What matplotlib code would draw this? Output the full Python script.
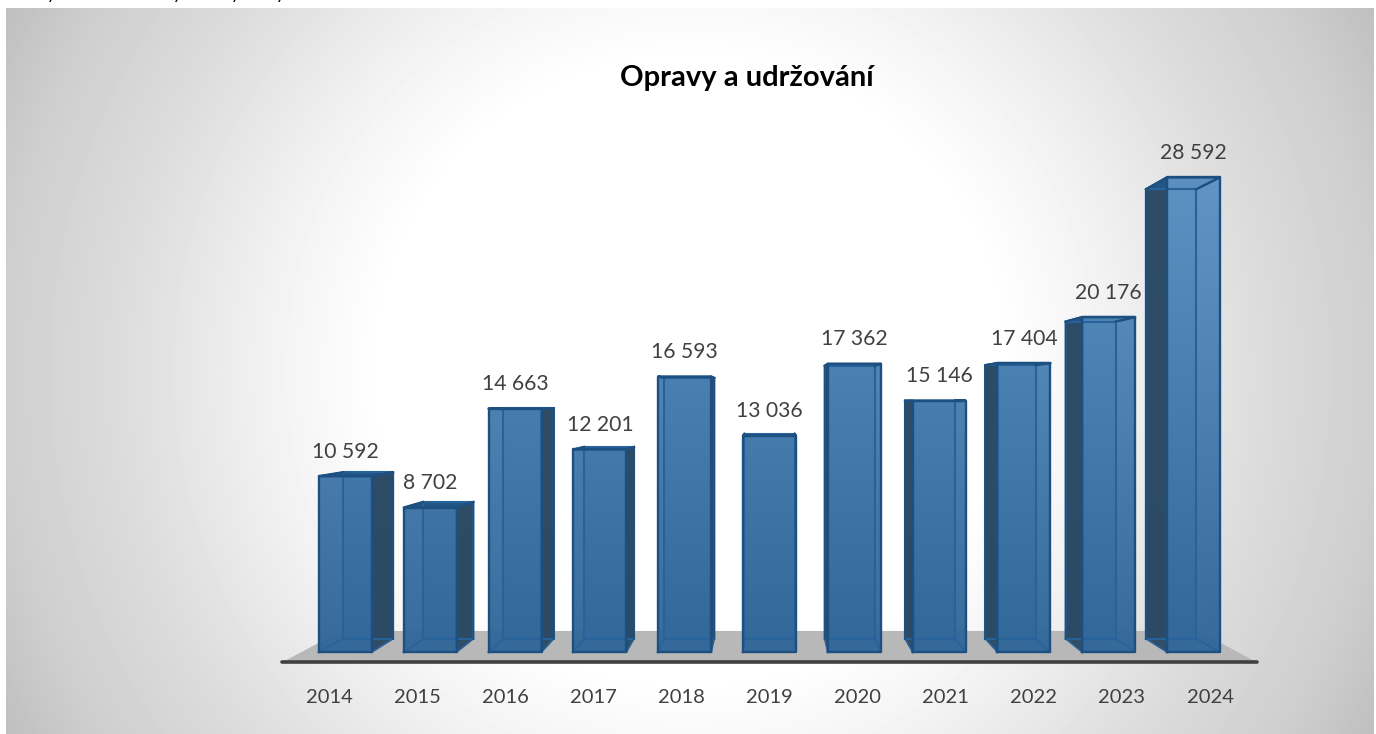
import numpy as np
import matplotlib.pyplot as plt
from matplotlib.colors import LinearSegmentedColormap
from matplotlib.patches import Polygon

years = ['2014', '2015', '2016', '2017', '2018', '2019', '2020', '2021', '2022', '2023', '2024']
values = [10592, 8702, 14663, 12201, 16593, 13036, 17362, 15146, 17404, 20176, 28592]
labels = ['10 592', '8 702', '14 663', '12 201', '16 593', '13 036', '17 362', '15 146', '17 404', '20 176', '28 592']
title = 'Opravy a udržování'

plt.rcParams['font.family'] = ['Lato', 'DejaVu Sans']

W, H = 1376, 734
fig = plt.figure(figsize=(W / 100, H / 100), dpi=100, facecolor='white')

# background panel, white in the middle and grey towards the corners
bg = fig.add_axes([6 / W, 0, (W - 8) / W, (H - 8) / H])
px, py = np.meshgrid(np.arange(6, W - 2), np.arange(8, H))
r = np.hypot(px - 690, py - 370)
shade = np.interp(r, [0, 310, 420, 577, 690, 780], [1, 1, 0.95, 0.86, 0.81, 0.745])
bg.imshow(shade, cmap='gray', vmin=0, vmax=1, aspect='auto', interpolation='bilinear')
bg.axis('off')

# chart axes over the whole figure: one category = 84.8 px, 1000 = 16.6 px
ax = fig.add_axes([0, 0, 1, 1])
ax.patch.set_alpha(0)
ax.axis('off')
ax.set_xlim(-345.5 / 84.8, (W - 345.5) / 84.8)
ax.set_ylim((652 - H) / 0.0166, 652 / 0.0166)

# perspective: the back of a bar shrinks towards this point
vx, vy = 5.0, 15060.0
depth = 0.947
half = 0.3125
floor_y = -630


def back(x, y, s=depth):
    return vx + (x - vx) * s, vy + (y - vy) * s


face_cmap = LinearSegmentedColormap.from_list('face', ['#5d93c3', '#316799'])
grad = np.linspace(0, 1, 480).reshape(-1, 1)


def grad_poly(pts, z, alpha=1.0):
    im = ax.imshow(grad, cmap=face_cmap, extent=[-1, 11, 0, 28800], aspect='auto',
                   zorder=z, alpha=alpha, interpolation='bilinear')
    clip = Polygon(pts, closed=True, transform=ax.transData)
    im.set_clip_path(clip)


xlim, ylim = ax.get_xlim(), ax.get_ylim()

# floor and axis line
fl, _ = back(-0.75, floor_y, 0.879)
fr, fb = back(10.75, floor_y, 0.879)
ax.add_patch(Polygon([(-0.75, floor_y), (fl, fb), (fr, fb), (10.75, floor_y)],
                     color='#b8b8b8', lw=0, zorder=1))
ax.plot([-0.75, 10.75], [floor_y, floor_y], color='#404040', lw=2.6,
        solid_capstyle='round', zorder=2)

edge = '#1d5080'
inner = '#28629a'
for i, v in enumerate(values):
    z = 3 + i * 0.1
    l, rt = i - half, i + half
    bl, bb = back(l, 0)
    br, _ = back(rt, 0)
    _, bt = back(l, v)

    grad_poly([(bl, bb), (bl, bt), (br, bt), (br, bb)], z, alpha=0.9)
    # side face, on the side that faces the middle
    if i < 5:
        side = [(rt, 0), (rt, v), (br, bt), (br, bb)]
    elif i > 5:
        side = [(l, 0), (l, v), (bl, bt), (bl, bb)]
    else:
        side = None
    if side:
        ax.add_patch(Polygon(side, color='#2b4860', lw=0, alpha=0.95, zorder=z + 0.01))
    ax.add_patch(Polygon([(l, v), (bl, bt), (br, bt), (rt, v)], color='#235684', lw=0,
                         zorder=z + 0.02))
    grad_poly([(l, 0), (l, v), (rt, v), (rt, 0)], z + 0.03, alpha=0.97)

    # wireframe seen through the front face
    ax.plot([bl, bl, br, br, bl], [bb, bt, bt, bb, bb], color=inner, lw=1.5, zorder=z + 0.04)
    for cx, cy, dx, dy in [(l, 0, bl, bb), (rt, 0, br, bb), (l, v, bl, bt), (rt, v, br, bt)]:
        ax.plot([cx, dx], [cy, dy], color=inner, lw=1.2, zorder=z + 0.04)
    if side:
        sx, sy = zip(*side)
        ax.plot(sx, sy, color=edge, lw=1.5, zorder=z + 0.05)
    ax.plot([bl, l, rt, br], [bt, v, v, bt], color=edge, lw=1.7, zorder=z + 0.05)
    ax.plot([l, l, rt, rt, l], [0, v, v, 0, 0], color=edge, lw=1.7,
            solid_joinstyle='round', zorder=z + 0.06)

    ax.annotate(labels[i], (i, v), xytext=(0, 17.5), textcoords='offset points',
                ha='center', va='center', fontsize=15.2, color='#404040', zorder=10)
    ax.text(5 + (i - 5) * 1.039, -2770, years[i], ha='center', va='center',
            fontsize=14.5, color='#404040', zorder=10)

ax.set_xlim(xlim)
ax.set_ylim(ylim)

fig.text(747 / W, 1 - 78 / H, title, ha='center', va='center', fontsize=21,
         fontweight='bold', color='black')

# line of text above the panel, cut off by the image edge so only descenders show
for x in [52, 178, 236, 281]:
    fig.text(x / W, 1 + 1 / H, 'y', ha='center', va='baseline', fontsize=13,
             style='italic', color='black')

fig.savefig('out.png', dpi=100, facecolor='white')
